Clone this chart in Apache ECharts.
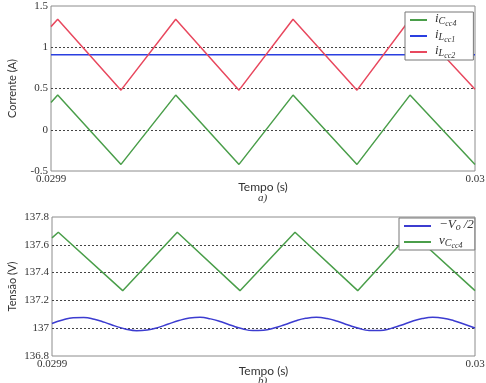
<!DOCTYPE html>
<html>
<head>
<meta charset="utf-8">
<script src="https://cdn.jsdelivr.net/npm/echarts@6/dist/echarts.min.js"></script>
<style>
  html, body { margin: 0; padding: 0; background: #fff; }
  #chart { width: 486px; height: 383px; }
</style>
</head>
<body>
<div id="chart"></div>
<script>
// a) correntes - vertices dos triangulos (tempo em s)
const tTop = [0.0299, 0.02990158, 0.02991651, 0.02992941, 0.02994434, 0.02995708, 0.02997217, 0.02998467, 0.03];
const iCcc4 = [0.33, 0.42, -0.42, 0.42, -0.42, 0.42, -0.42, 0.42, -0.42];
const iLcc2 = [1.25, 1.34, 0.48, 1.34, 0.48, 1.34, 0.48, 1.34, 0.49];
const tFlat = [0.0299, 0.03];
const iLcc1 = [0.91, 0.91];

// b) tensoes
const tVc = [0.0299, 0.02990149, 0.02991671, 0.02992962, 0.02994444, 0.02995745, 0.02997227, 0.02998487, 0.03];
const vCcc4 = [137.65, 137.69, 137.27, 137.69, 137.27, 137.69, 137.27, 137.69, 137.27];
const tVo = [
  0.0299, 0.0299025, 0.029905, 0.0299075, 0.02991, 0.0299125, 0.029915, 0.0299175, 0.02992, 0.0299225,
  0.029925, 0.0299275, 0.02993, 0.0299325, 0.029935, 0.0299375, 0.02994, 0.0299425, 0.029945, 0.0299475,
  0.02995, 0.0299525, 0.029955, 0.0299575, 0.02996, 0.0299625, 0.029965, 0.0299675, 0.02997, 0.0299725,
  0.029975, 0.0299775, 0.02998, 0.0299825, 0.029985, 0.0299875, 0.02999, 0.0299925, 0.029995, 0.0299975, 0.03
];
const vo2 = [
  137.034, 137.059, 137.075, 137.077, 137.065, 137.042, 137.015, 136.993, 136.982, 136.987,
  137.004, 137.030, 137.055, 137.073, 137.078, 137.067, 137.046, 137.019, 136.996, 136.983,
  136.985, 137.001, 137.025, 137.052, 137.071, 137.078, 137.070, 137.050, 137.023, 136.999,
  136.984, 136.984, 136.997, 137.021, 137.048, 137.069, 137.078, 137.072, 137.054, 137.028, 137.002
];

const xTickLabels = ['0.0299', '0.03'];

const zip = (t, v) => t.map((x, i) => [x, v[i]]);

const serif = 'Liberation Serif';
const sans = 'Lato';

// subscritos em rich text
const rich = {
  i: { fontFamily: serif, fontStyle: 'italic', fontSize: 13, lineHeight: 12, padding: [0, 0, 3, 3], color: '#333' },
  s: { fontFamily: serif, fontStyle: 'italic', fontSize: 10, lineHeight: 10, padding: [4, 0, 1, 0], color: '#333' },
  ss: { fontFamily: serif, fontStyle: 'italic', fontSize: 8, lineHeight: 7, padding: [8, 0, 0, 0], color: '#333' }
};
const legendText = {
  iCcc4: '{i|i}{s|C}{ss|cc4}',
  iLcc1: '{i|i}{s|L}{ss|cc1}',
  iLcc2: '{i|i}{s|L}{ss|cc2}',
  vo2: '{i|−V}{s|o}{i|/2}',
  vCcc4: '{i|v}{s|C}{ss|cc4}'
};

const axisLabel = { fontFamily: serif, fontSize: 11, color: '#333' };
const splitLine = { show: true, showMinLine: false, showMaxLine: false, lineStyle: { color: '#444', width: 1, type: [2, 2] } };

const xAxisBase = (gridIndex, nameGap) => ({
  type: 'value',
  gridIndex: gridIndex,
  min: 0.0299,
  max: 0.03,
  interval: 0.0001,
  name: 'Tempo (s)',
  nameLocation: 'middle',
  nameGap: nameGap,
  nameMoveOverlap: false,
  nameTextStyle: { fontFamily: sans, fontSize: 12, color: '#333' },
  axisLine: { show: false },
  axisTick: { show: false },
  splitLine: { show: false },
  axisLabel: Object.assign({}, axisLabel, {
    margin: 3,
    showMinLabel: true,
    showMaxLabel: true,
    formatter: v => (v < 0.02995 ? xTickLabels[0] : xTickLabels[1])
  })
});

const yName = { fontFamily: sans, fontSize: 11, color: '#333' };

const chart = echarts.init(document.getElementById('chart'));

const option = {
  backgroundColor: '#fff',
  animation: false,
  grid: [
    { left: 51, top: 6, width: 424, height: 165, show: true, borderColor: '#8c8c8c', borderWidth: 1, backgroundColor: 'transparent', containLabel: false, outerBoundsMode: 'none' },
    { left: 52, top: 217, width: 423, height: 139, show: true, borderColor: '#8c8c8c', borderWidth: 1, backgroundColor: 'transparent', containLabel: false, outerBoundsMode: 'none' }
  ],
  xAxis: [xAxisBase(0, 10), xAxisBase(1, 9)],
  yAxis: [
    {
      type: 'value', gridIndex: 0, min: -0.5, max: 1.5, interval: 0.5,
      name: 'Corrente (A)', nameLocation: 'middle', nameGap: 33, nameMoveOverlap: false,
      nameTextStyle: yName,
      axisLine: { show: false }, axisTick: { show: false },
      axisLabel: Object.assign({}, axisLabel, { margin: 3 }),
      splitLine: splitLine
    },
    {
      type: 'value', gridIndex: 1, min: 136.8, max: 137.8, interval: 0.2,
      name: 'Tensão (V)', nameLocation: 'middle', nameGap: 34, nameMoveOverlap: false,
      nameTextStyle: yName,
      axisLine: { show: false }, axisTick: { show: false },
      axisLabel: Object.assign({}, axisLabel, { margin: 3 }),
      splitLine: splitLine
    }
  ],
  legend: [
    {
      data: ['iCcc4', 'iLcc1', 'iLcc2'],
      left: 405, top: 12, orient: 'vertical',
      icon: 'rect', itemWidth: 17, itemHeight: 2, itemGap: 0,
      padding: [0, 17, 0, 5],
      borderColor: '#777', borderWidth: 1, backgroundColor: '#fff',
      textStyle: { rich: rich },
      formatter: name => legendText[name]
    },
    {
      data: ['vo2', 'vCcc4'],
      left: 399, top: 218, orient: 'vertical',
      icon: 'rect', itemWidth: 27, itemHeight: 2, itemGap: 0,
      padding: [0, 1, 0, 5],
      borderColor: '#777', borderWidth: 1, backgroundColor: '#fff',
      textStyle: { rich: rich },
      formatter: name => legendText[name]
    }
  ],
  graphic: [
    { type: 'text', left: 258, top: 193, style: { text: 'a)', fontFamily: serif, fontStyle: 'italic', fontSize: 11, fill: '#333' } },
    { type: 'text', left: 258, top: 376, style: { text: 'b)', fontFamily: serif, fontStyle: 'italic', fontSize: 11, fill: '#333' } }
  ],
  series: [
    { name: 'iCcc4', type: 'line', xAxisIndex: 0, yAxisIndex: 0, data: zip(tTop, iCcc4), symbol: 'none', color: '#4a9e4a', lineStyle: { width: 1.5 } },
    { name: 'iLcc1', type: 'line', xAxisIndex: 0, yAxisIndex: 0, data: zip(tFlat, iLcc1), symbol: 'none', color: '#2a3fe0', lineStyle: { width: 1.5 } },
    { name: 'iLcc2', type: 'line', xAxisIndex: 0, yAxisIndex: 0, data: zip(tTop, iLcc2), symbol: 'none', color: '#e8485e', lineStyle: { width: 1.5 } },
    { name: 'vo2', type: 'line', xAxisIndex: 1, yAxisIndex: 1, data: zip(tVo, vo2), symbol: 'none', smooth: true, color: '#3c3cd0', lineStyle: { width: 1.5 } },
    { name: 'vCcc4', type: 'line', xAxisIndex: 1, yAxisIndex: 1, data: zip(tVc, vCcc4), symbol: 'none', color: '#4a9e4a', lineStyle: { width: 1.5 } }
  ]
};

chart.setOption(option);
</script>
</body>
</html>
